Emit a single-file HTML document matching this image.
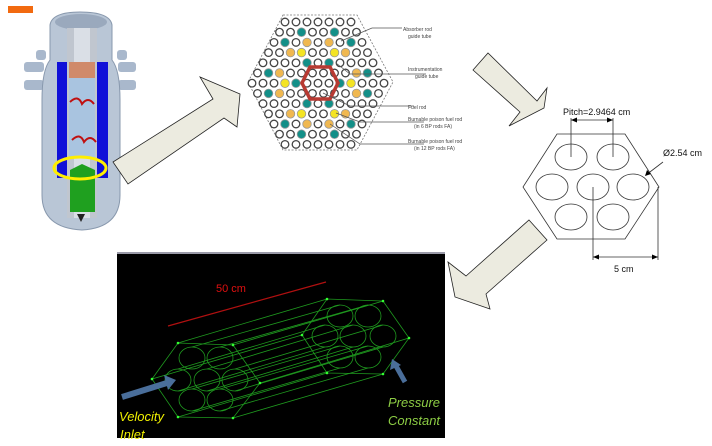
<!DOCTYPE html>
<html><head><meta charset="utf-8"><style>
html,body{margin:0;padding:0;background:#fff;width:712px;height:446px;overflow:hidden}
svg{display:block}
text{font-family:"Liberation Sans",sans-serif}
</style></head><body>
<svg id="s" width="712" height="446" viewBox="0 0 712 446" xmlns="http://www.w3.org/2000/svg">
<!-- orange tag -->
<rect x="8" y="6" width="25" height="7" fill="#f26a10"/>
<!-- reactor -->
<g>
<rect x="24" y="62" width="20" height="10" rx="3" fill="#a9b8cc"/>
<rect x="24" y="80" width="20" height="10" rx="3" fill="#a9b8cc"/>
<rect x="118" y="62" width="18" height="10" rx="3" fill="#a9b8cc"/>
<rect x="118" y="80" width="18" height="10" rx="3" fill="#a9b8cc"/>
<rect x="36" y="50" width="10" height="10" rx="3" fill="#a9b8cc"/>
<rect x="117" y="50" width="10" height="10" rx="3" fill="#a9b8cc"/>
<path d="M50 25 Q52 12 80 12 Q110 12 112 25 L112 60 Q120 70 120 100 L120 195 Q120 228 82 230 Q42 228 42 195 L42 100 Q42 70 50 60 Z" fill="#b9c6d6" stroke="#8898ad"/>
<ellipse cx="81" cy="22" rx="26" ry="8" fill="#9aa9bd"/>
<rect x="57" y="62" width="51" height="116" fill="#1010d8"/>
<rect x="67" y="28" width="30" height="190" fill="#c0c6cf"/>
<rect x="74" y="28" width="16" height="190" fill="#dadfe6"/>
<rect x="69" y="62" width="26" height="16" fill="#d08a6a"/>
<rect x="69" y="78" width="26" height="80" fill="#a9c4e0"/>
<path d="M70 102 q8 -8 12 2 q6 -8 12 0 M72 140 q8 -8 12 2 q6 -8 12 0" stroke="#c01010" stroke-width="2" fill="none"/>
<path d="M70 170 L82 164 L95 170 L95 212 L70 212 Z" fill="#1fa01f"/>
<path d="M77 214 l4 8 l4 -8 z" fill="#222"/>
<ellipse cx="80" cy="168" rx="26" ry="11" fill="none" stroke="#ffee00" stroke-width="3"/>
</g>
<!-- arrow 1 -->
<polygon points="113,162 213,99 200,77 240,94 237,127 224,118 128,184" fill="#ecebe0" stroke="#222" stroke-width="0.8"/>
<!-- arrow 2 -->
<polygon points="473,70 488,53 537,101 547,88 544,108 509,126 520,112" fill="#ecebe0" stroke="#222" stroke-width="0.8"/>
<!-- arrow 3 -->
<polygon points="529,220 547,240 486,294 490,309 455,297 448,262 466,276" fill="#ecebe0" stroke="#222" stroke-width="0.8"/>
<!-- bundle -->
<polygon points="283,15 357,15 393,82 357,150 283,150 248,82" fill="none" stroke="#777" stroke-width="0.8" stroke-dasharray="2,1.5"/>
<g id="rods"></g>
<polygon points="310,67 330,67 338,83 330,99 310,99 302,83" fill="none" stroke="#b83a32" stroke-width="3.5"/>
<g stroke="#555" stroke-width="0.7" fill="none">
<path d="M341 41 L372 28 L402 28"/><path d="M336 63 L350 74 L426 74"/><path d="M323 93 L350 106 L414 106"/><path d="M336 113 L360 122 L424 122"/><path d="M330 124 L360 144 L424 144"/>
</g>
<g font-family="Liberation Serif,serif" font-size="5" fill="#444">
<text x="403" y="31">Absorber rod</text><text x="408" y="38">guide tube</text>
<text x="408" y="71">Instrumentation</text><text x="415" y="78">guide tube</text>
<text x="408" y="109">Fuel rod</text>
<text x="408" y="121">Burnable poison fuel rod</text><text x="414" y="128">(in 6 BP rods FA)</text>
<text x="408" y="143">Burnable poison fuel rod</text><text x="414" y="150">(in 12 BP rods FA)</text>
</g>
<!-- hex schematic -->
<polygon points="557,134 625,134 659,187 625,239 557,239 523,187" fill="#fff" stroke="#333" stroke-width="0.8"/>
<g fill="none" stroke="#333" stroke-width="0.8">
<ellipse cx="571" cy="157" rx="16" ry="13"/><ellipse cx="613" cy="157" rx="16" ry="13"/>
<ellipse cx="552" cy="187" rx="16" ry="13"/><ellipse cx="593" cy="187" rx="16" ry="13"/><ellipse cx="633" cy="187" rx="16" ry="13"/>
<ellipse cx="571" cy="217" rx="16" ry="13"/><ellipse cx="613" cy="217" rx="16" ry="13"/>
<path d="M571 118 V157 M613 118 V157 M571 120 H613 M593 187 V260 M658 187 V260 M593 257 H658 M663 162 L646 175"/>
</g>
<g fill="#000"><path d="M571 120 l6 -2.5 v5z"/><path d="M613 120 l-6 -2.5 v5z"/><path d="M593 257 l6 -2.5 v5z"/><path d="M658 257 l-6 -2.5 v5z"/><path d="M645 176 l2 -6 l4 4z"/></g>
<text x="563" y="115" font-size="9" fill="#111">Pitch=2.9464 cm</text>
<text x="663" y="156" font-size="9" fill="#111">Ø2.54 cm</text>
<text x="614" y="272" font-size="9" fill="#111">5 cm</text>
<!-- CFD black box -->
<rect x="117" y="252" width="328" height="186" fill="#000"/>
<rect x="117" y="252" width="328" height="2" fill="#9a9aa8"/>
<line x1="168" y1="326" x2="326" y2="282" stroke="#b01010" stroke-width="1.2"/>
<text x="216" y="292" font-size="11" fill="#e01010">50 cm</text>
<g stroke="#1f9a1f" stroke-width="0.8" fill="none" id="cfd">
<polygon points="178,343 233,345 260,383 233,418 178,417 152,379"/>
<polygon points="327,299 383,301 409,338 383,374 327,373 302,335"/>
<path d="M178,343 L327,299 M233,345 L383,301 M260,383 L409,338 M233,418 L383,374 M178,417 L327,373 M152,379 L302,335"/>
<path d="M192,347 L340,305 M220,347 L368,305 M178,369 L325,325 M207,369 L353,325 M235,369 L383,325 M192,389 L340,346 M220,389 L368,346 M192,411 L340,368 M220,411 L368,368 M178,391 L325,347 M207,391 L353,347 M235,391 L383,347"/>
<ellipse cx="192" cy="358" rx="13" ry="11"/><ellipse cx="220" cy="358" rx="13" ry="11"/>
<ellipse cx="178" cy="380" rx="13" ry="11"/><ellipse cx="207" cy="380" rx="13" ry="11"/><ellipse cx="235" cy="380" rx="13" ry="11"/>
<ellipse cx="192" cy="400" rx="13" ry="11"/><ellipse cx="220" cy="400" rx="13" ry="11"/>
<ellipse cx="340" cy="316" rx="13" ry="11"/><ellipse cx="368" cy="316" rx="13" ry="11"/>
<ellipse cx="325" cy="336" rx="13" ry="11"/><ellipse cx="353" cy="336" rx="13" ry="11"/><ellipse cx="383" cy="336" rx="13" ry="11"/>
<ellipse cx="340" cy="357" rx="13" ry="11"/><ellipse cx="368" cy="357" rx="13" ry="11"/>
</g>
<g fill="#33ff33">
<circle cx="178" cy="343" r="1.3"/><circle cx="233" cy="345" r="1.3"/><circle cx="260" cy="383" r="1.3"/><circle cx="233" cy="418" r="1.3"/><circle cx="178" cy="417" r="1.3"/><circle cx="152" cy="379" r="1.3"/>
<circle cx="327" cy="299" r="1.3"/><circle cx="383" cy="301" r="1.3"/><circle cx="409" cy="338" r="1.3"/><circle cx="383" cy="374" r="1.3"/><circle cx="327" cy="373" r="1.3"/><circle cx="302" cy="335" r="1.3"/>
</g>
<line x1="122" y1="397" x2="170" y2="382" stroke="#4a6e9a" stroke-width="6"/>
<polygon points="176,380 164,375 168,390" fill="#4a6e9a"/>
<line x1="405" y1="382" x2="396" y2="366" stroke="#4a6e9a" stroke-width="5"/>
<polygon points="392,359 390,370 401,365" fill="#4a6e9a"/>
<g font-size="13" font-style="italic">
<text x="119" y="421" fill="#f0f000">Velocity</text><text x="120" y="439" fill="#f0f000">Inlet</text>
<text x="388" y="407" fill="#8ccc44">Pressure</text><text x="388" y="425" fill="#8ccc44">Constant</text>
</g>
</svg>
<script>
(function(){
var g=document.getElementById('rods'),ns='http://www.w3.org/2000/svg',h='';
for(var r=0;r<13;r++){var n=13-Math.abs(r-6),y=22+r*10.2,x0=318-(n-1)/2*11;
for(var c=0;c<n;c++){h+='<circle cx="'+(x0+c*11)+'" cy="'+y+'" r="3.8" fill="#fff" stroke="#444" stroke-width="1.3"/>';}}
var T='#138f88',Y='#f4e424',O='#f0b850';
var col=[[1,303,T],[1,336,T],[2,287,T],[2,352,T],[2,309,O],[2,330,O],[3,292,O],[3,347,O],[3,303,Y],[3,336,Y],[4,309,T],[4,330,T],[5,271,T],[5,368,T],[5,282,O],[5,357,O],[6,287,Y],[6,352,Y],[6,297,T],[6,341,T],[7,271,T],[7,368,T],[7,282,O],[7,357,O],[8,309,T],[8,330,T],[9,292,O],[9,347,O],[9,303,Y],[9,336,Y],[10,287,T],[10,352,T],[10,309,O],[10,330,O],[11,303,T],[11,336,T]];
for(var i=0;i<col.length;i++){var r=col[i][0],n=13-Math.abs(r-6),y=22+r*10.2,x0=318-(n-1)/2*11;
var c=Math.round((col[i][1]-x0)/11),x=x0+c*11;
h+='<circle cx="'+x+'" cy="'+y+'" r="4.3" fill="'+col[i][2]+'" stroke="#999" stroke-width="0.8"/>';}
g.innerHTML=h;
})();
</script>
</body></html>
